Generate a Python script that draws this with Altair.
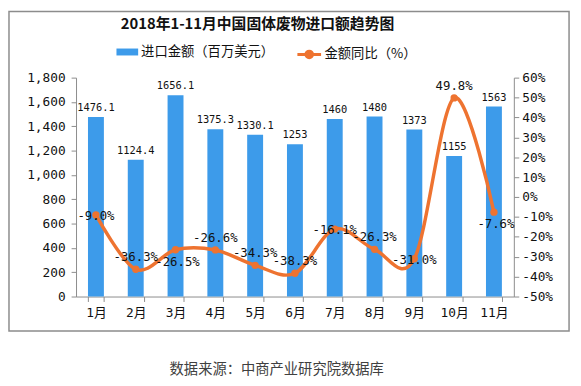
import altair as alt
import pandas as pd

months = ["1月", "2月", "3月", "4月", "5月", "6月", "7月", "8月", "9月", "10月", "11月"]
amount = [1476.1, 1124.4, 1656.1, 1375.3, 1330.1, 1253, 1460, 1480, 1373, 1155, 1563]
amount_labels = ["1476.1", "1124.4", "1656.1", "1375.3", "1330.1", "1253", "1460", "1480", "1373", "1155", "1563"]
yoy = [-9.0, -36.3, -26.5, -26.6, -34.3, -38.3, -16.1, -26.3, -31.0, 49.8, -7.6]
yoy_labels = ["-9.0%", "-36.3%", "-26.5%", "-26.6%", "-34.3%", "-38.3%", "-16.1%", "-26.3%", "-31.0%", "49.8%", "-7.6%"]
left_ticks = [0, 200, 400, 600, 800, 1000, 1200, 1400, 1600, 1800]
right_ticks = [-50, -40, -30, -20, -10, 0, 10, 20, 30, 40, 50, 60]
title_text = "2018年1-11月中国固体废物进口额趋势图"
source_text = "数据来源：中商产业研究院数据库"

# label placement of the line's data labels (as in the reference)
labels_below = ["3月", "11月"]
labels_center = ["1月", "7月", "9月"]

df = pd.DataFrame({
    "month": months,
    "amount": amount,
    "amount_label": amount_labels,
    "yoy": yoy,
    "yoy_label": yoy_labels,
})

BLUE = "#3D9BEA"
ORANGE = "#EE7330"
AXIS = "#8C8C8C"
FONT_NUM = "DejaVu Sans Mono, Noto Sans CJK SC"
FONT_CJK = "Noto Sans CJK SC"

x = alt.X(
    "month:N", sort=months,
    scale=alt.Scale(paddingInner=0.6, paddingOuter=0.3),
    axis=alt.Axis(
        title=source_text, titleFont=FONT_CJK, titleFontSize=14.5,
        titleFontWeight="normal", titleColor="#404040", titlePadding=44,
        titleX=203, titleAlign="center",
        labelAngle=0, tickBand="extent", tickSize=5, labelPadding=5,
        labelFont=FONT_NUM, labelFontSize=13, labelColor="#111",
        domainColor=AXIS, tickColor=AXIS,
    ),
)

y_left = alt.Y(
    "amount:Q", scale=alt.Scale(domain=[0, 1800], nice=False),
    axis=alt.Axis(
        title=None, values=left_ticks, format=",.0f", tickSize=5, labelPadding=6,
        labelFont=FONT_NUM, labelFontSize=13, labelColor="#111",
        domainColor=AXIS, tickColor=AXIS,
    ),
)

y_right = alt.Y(
    "yoy:Q", scale=alt.Scale(domain=[-50, 60], nice=False),
    axis=alt.Axis(
        title=None, orient="right", values=right_ticks, labelExpr="datum.value + '%'",
        tickSize=5, labelPadding=3,
        labelFont=FONT_NUM, labelFontSize=13, labelColor="#111",
        domainColor=AXIS, tickColor=AXIS,
    ),
)

one = alt.Data(values=[{"k": 1}])
frame = alt.Chart(one).mark_rect(
    fill="#ffffff", fillOpacity=0, stroke="#8C8C8C", strokeWidth=1.5
).encode(
    x=alt.value(-68), x2=alt.value(500), y=alt.value(-67), y2=alt.value(257)
)

title = alt.Chart(alt.Data(values=[{"t": title_text}])).mark_text(
    font=FONT_CJK, fontSize=15, fontWeight="bold", color="#111", align="center", baseline="middle"
).encode(x=alt.value(184), y=alt.value(-54), text="t:N")

bars = alt.Chart(df).transform_calculate(
    series="'进口金额（百万美元）'"
).mark_bar().encode(
    x=x, y=y_left,
    fill=alt.Fill(
        "series:N", scale=alt.Scale(range=[BLUE]),
        legend=alt.Legend(
            title=None, orient="none", legendX=41, legendY=-37,
            symbolType="M-1,-0.32H1V0.32H-1Z", symbolSize=484, symbolStrokeWidth=0,
            labelFont=FONT_CJK, labelFontSize=13.5, labelColor="#111", labelOffset=3,
        ),
    ),
)

bar_text = alt.Chart(df).mark_text(
    baseline="bottom", dy=-4, font=FONT_NUM, fontSize=10.5, color="#111"
).encode(x=x, y=y_left, text="amount_label:N")

line = alt.Chart(df).transform_calculate(
    series2="'金额同比（%）'"
).mark_line(interpolate="cardinal", strokeWidth=3.5).encode(
    x=x, y=y_right,
    stroke=alt.Stroke(
        "series2:N", scale=alt.Scale(range=[ORANGE]),
        legend=alt.Legend(
            title=None, orient="none", legendX=223, legendY=-37,
            symbolType="M-1,0H1M0.28,0A0.28,0.28,0,1,1,-0.28,0A0.28,0.28,0,1,1,0.28,0",
            symbolSize=576, symbolStrokeWidth=3, symbolFillColor=ORANGE,
            labelFont=FONT_CJK, labelFontSize=13.5, labelColor="#111", labelOffset=2,
        ),
    ),
)

points = alt.Chart(df).mark_circle(size=55, color=ORANGE, opacity=1).encode(x=x, y=y_right)

text_style = dict(font=FONT_NUM, fontSize=12.5, color="#111")
base_text = alt.Chart(df).encode(x=x, y=y_right, text="yoy_label:N")
in_below = alt.FieldOneOfPredicate(field="month", oneOf=labels_below)
in_center = alt.FieldOneOfPredicate(field="month", oneOf=labels_center)
text_above = base_text.transform_filter(~in_below).transform_filter(~in_center).mark_text(dy=-12, **text_style)
text_below = base_text.transform_filter(in_below).mark_text(dy=12, dx=2, **text_style)
text_center = base_text.transform_filter(in_center).mark_text(dy=1, **text_style)

left = alt.layer(frame, title, bars, bar_text)
right = alt.layer(line, points, text_above, text_below, text_center)

chart = alt.layer(left, right).resolve_scale(
    y="independent"
).properties(
    width=444, height=222,
    autosize=alt.AutoSizeParams(type="none"),
    padding={"left": 69, "top": 68, "right": 60, "bottom": 80},
).configure_view(stroke=None).configure_axis(grid=False)

chart.save("out.html", embed_options={"renderer": "svg", "actions": False})
